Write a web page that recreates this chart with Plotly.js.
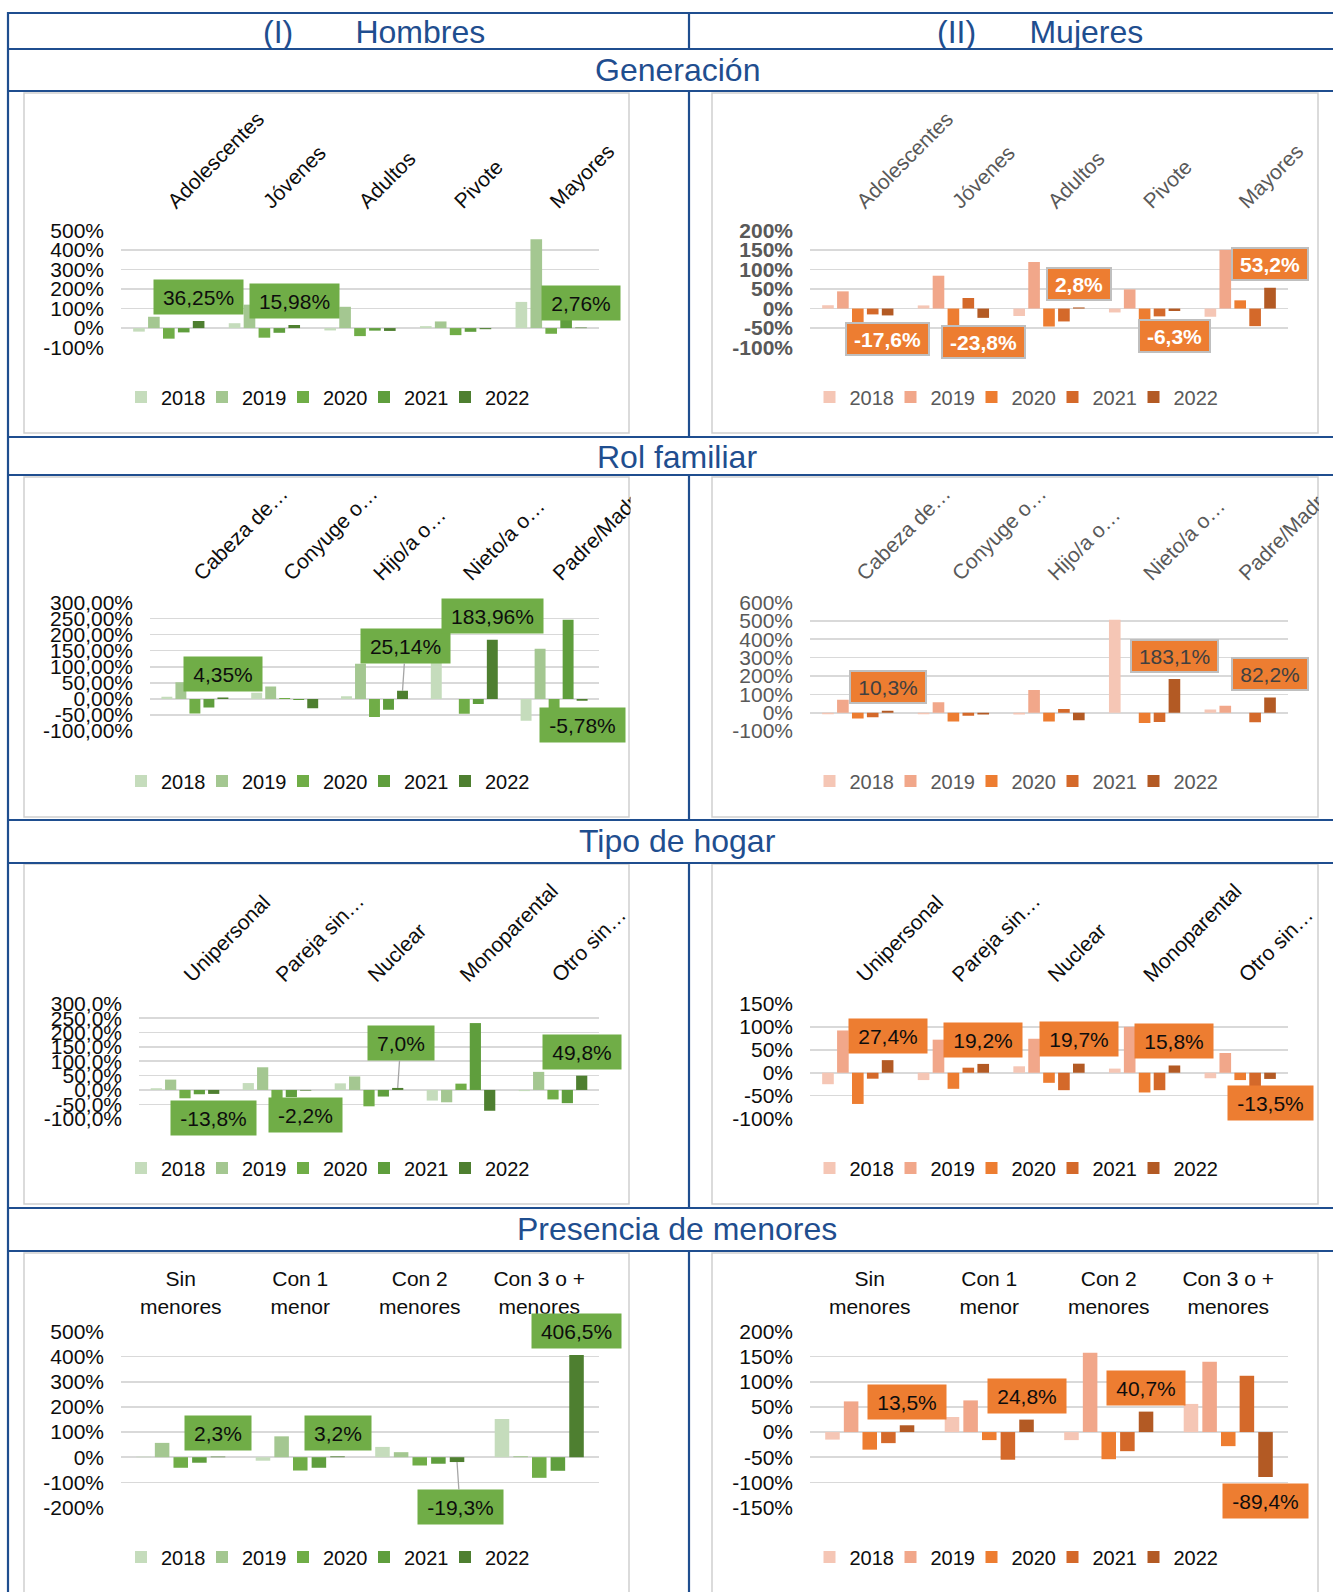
<!DOCTYPE html>
<html>
<head>
<meta charset="utf-8">
<script src="https://cdn.plot.ly/plotly-3.0.1.min.js"></script>
<style>
html,body{margin:0;padding:0;background:#ffffff;}
#chart{width:1333px;height:1592px;}
</style>
</head>
<body>
<div id="chart"></div>
<script>
// ---------------- DATA ----------------
const years = ['2018', '2019', '2020', '2021', '2022'];

const catGeneracion = ['Adolescentes', 'Jóvenes', 'Adultos', 'Pivote', 'Mayores'];
const catRol = ['Cabeza de…', 'Conyuge o…', 'Hijo/a o…', 'Nieto/a o…', 'Padre/Madre…'];
const catHogar = ['Unipersonal', 'Pareja sin…', 'Nuclear', 'Monoparental', 'Otro sin…'];
const catMenores = ['Sin menores', 'Con 1 menor', 'Con 2 menores', 'Con 3 o + menores'];
const tickMenores = ['Sin<br>menores', 'Con 1<br>menor', 'Con 2<br>menores', 'Con 3 o +<br>menores'];

// values (%) – one row per year 2018..2022
const genHombres = [
  [-18, 25, -12, 10, 134],
  [58, 120, 109, 34, 454],
  [-54, -49, -41, -36, -29],
  [-22, -24, -13, -19, 42],
  [36.25, 15.98, -14.48, -5.56, 2.76]
];
const genMujeres = [
  [8.5, 8, -19, -10, -21],
  [44, 84, 119, 49, 150],
  [-40, -48, -46, -30, 21],
  [-15, 27, -33, -20, -45],
  [-17.6, -23.8, 2.8, -6.3, 53.2]
];
const rolHombres = [
  [7, 19, 8, 130, -68],
  [52, 39, 109, 0, 156],
  [-45, 3, -56, -46, -35],
  [-27, -3, -34, -16, 246],
  [4.35, -29.06, 25.14, 183.96, -5.78]
];
const rolMujeres = [
  [-8, -8, -10, 506, 18],
  [70, 57, 124, 0, 38],
  [-32, -48, -48, -56, 0],
  [-25, -16, 20, -50, -52],
  [10.3, -9.3, -41.1, 183.1, 82.2]
];
const hogarHombres = [
  [6, 24, 23, -37, -4],
  [36, 79, 47, -43, 63],
  [-29, -30, -57, 22, -33],
  [-15, -25, -23, 233, -46],
  [-13.8, -2.2, 7.0, -72.5, 49.8]
];
const hogarMujeres = [
  [-25, -16, 14, 9, -12],
  [92, 72, 74, 100, 43],
  [-68, -35, -22, -43, -16],
  [-13, 11, -38, -38, -32],
  [27.4, 19.2, 19.7, 15.8, -13.5]
];
const menoresHombres = [
  [2, -14, 41, 152],
  [57, 83, 20, 4],
  [-42, -53, -33, -82],
  [-22, -42, -26, -54],
  [2.3, 3.2, -19.3, 406.5]
];
const menoresMujeres = [
  [-15, 30, -16, 56],
  [61, 63, 158, 140],
  [-35, -16, -54, -28],
  [-22, -55, -38, 112],
  [13.5, 24.8, 40.7, -89.4]
];

// y tick values and labels
const ticksGenH = [-100, 0, 100, 200, 300, 400, 500];
const ticksGenHText = ['-100%', '0%', '100%', '200%', '300%', '400%', '500%'];
const ticksGenM = [-100, -50, 0, 50, 100, 150, 200];
const ticksGenMText = ['-100%', '-50%', '0%', '50%', '100%', '150%', '200%'];
const ticksRolH = [-100, -50, 0, 50, 100, 150, 200, 250, 300];
const ticksRolHText = ['-100,00%', '-50,00%', '0,00%', '50,00%', '100,00%', '150,00%', '200,00%', '250,00%', '300,00%'];
const ticksRolM = [-100, 0, 100, 200, 300, 400, 500, 600];
const ticksRolMText = ['-100%', '0%', '100%', '200%', '300%', '400%', '500%', '600%'];
const ticksHogarH = [-100, -50, 0, 50, 100, 150, 200, 250, 300];
const ticksHogarHText = ['-100,0%', '-50,0%', '0,0%', '50,0%', '100,0%', '150,0%', '200,0%', '250,0%', '300,0%'];
const ticksHogarM = [-100, -50, 0, 50, 100, 150];
const ticksHogarMText = ['-100%', '-50%', '0%', '50%', '100%', '150%'];
const ticksMenH = [-200, -100, 0, 100, 200, 300, 400, 500];
const ticksMenHText = ['-200%', '-100%', '0%', '100%', '200%', '300%', '400%', '500%'];
const ticksMenM = [-150, -100, -50, 0, 50, 100, 150, 200];
const ticksMenMText = ['-150%', '-100%', '-50%', '0%', '50%', '100%', '150%', '200%'];

// ---------------- LABEL PLACEMENT (data-unit centre of each 2022 label box) ----------------
const labPosGenH = [158, 138, -139, -131, 126];
const labPosGenM = [-79, -86, 63, -69, 113];
const labPosRolH = [77, -105, null, 257, -82];
const labPosRolM = [141, -138, -171, 311, 213];
const labPosHogarH = [-99, -86, null, -156, 133];
const labPosHogarM = [80, 71, 73, 69, -66];
const labPosMenH = [97.5, 97.5, null, 500.7];
const labPosMenM = [60, 71, 88, -138];
// leader-line labels: pixel offset of the box from the bar end
const leaderRolH = [null, null, -45, null, null];
const leaderHogarH = [null, null, -45, null, null];
const leaderMenH = [null, null, 45, null];

// ---------------- STYLE ----------------
const W = 1333, H = 1592;
const FONT = 'Liberation Sans, Arial, Helvetica, sans-serif';
const BLUE = '#1F4E8F';
const greens = ['#C5DCBC', '#A4C791', '#70AD47', '#5F9E3D', '#4E7F30'];
const oranges = ['#F5C6B5', '#F1A78A', '#ED7D31', '#D4692A', '#B35A24'];
const BARGAP = 0.22, GROUPGAP = 0.22;
const px = v => v / W;
const py = v => 1 - v / H;

const rows = [
  {plotY: [230, 348], frameY: [93, 433], legendY: 397},
  {plotY: [602, 731.5], frameY: [477, 817], legendY: 781},
  {plotY: [1003.5, 1119], frameY: [864, 1204], legendY: 1168},
  {plotY: [1331, 1508], frameY: [1253, 1600], legendY: 1557}
];
const leftPlotX = [[121, 599], [150, 599], [139, 599], [121, 599]];
const rightPlotX = [810, 1288];
const leftFrameX = [24, 629], rightFrameX = [712, 1318];

const panels = [
  {row: 0, side: 'L', cats: catGeneracion, ticktext: catGeneracion, vals: genHombres, tv: ticksGenH, tt: ticksGenHText, dec: 2, lab: labPosGenH, lead: null, txt: '#0D0D0D', tickBold: false, lbl: 'green'},
  {row: 0, side: 'R', cats: catGeneracion, ticktext: catGeneracion, vals: genMujeres, tv: ticksGenM, tt: ticksGenMText, dec: 1, lab: labPosGenM, lead: null, txt: '#595959', tickBold: true, lbl: 'orangeWhite'},
  {row: 1, side: 'L', cats: catRol, ticktext: catRol, vals: rolHombres, tv: ticksRolH, tt: ticksRolHText, dec: 2, lab: labPosRolH, lead: leaderRolH, txt: '#0D0D0D', tickBold: false, lbl: 'green'},
  {row: 1, side: 'R', cats: catRol, ticktext: catRol, vals: rolMujeres, tv: ticksRolM, tt: ticksRolMText, dec: 1, lab: labPosRolM, lead: null, txt: '#595959', tickBold: false, lbl: 'orangeGrey'},
  {row: 2, side: 'L', cats: catHogar, ticktext: catHogar, vals: hogarHombres, tv: ticksHogarH, tt: ticksHogarHText, dec: 1, lab: labPosHogarH, lead: leaderHogarH, txt: '#0D0D0D', tickBold: false, lbl: 'green'},
  {row: 2, side: 'R', cats: catHogar, ticktext: catHogar, vals: hogarMujeres, tv: ticksHogarM, tt: ticksHogarMText, dec: 1, lab: labPosHogarM, lead: null, txt: '#0D0D0D', tickBold: false, lbl: 'orange'},
  {row: 3, side: 'L', cats: catMenores, ticktext: tickMenores, vals: menoresHombres, tv: ticksMenH, tt: ticksMenHText, dec: 1, lab: labPosMenH, lead: leaderMenH, txt: '#0D0D0D', tickBold: false, lbl: 'green'},
  {row: 3, side: 'R', cats: catMenores, ticktext: tickMenores, vals: menoresMujeres, tv: ticksMenM, tt: ticksMenMText, dec: 1, lab: labPosMenM, lead: null, txt: '#0D0D0D', tickBold: false, lbl: 'orange'}
];

const labelStyles = {
  green: {bg: '#70AD47', color: '#0D0D0D', bold: false, border: null, bw: 0},
  orangeWhite: {bg: '#ED7D31', color: '#FFFFFF', bold: true, border: '#BFBFBF', bw: 2},
  orangeGrey: {bg: '#ED7D31', color: '#404040', bold: false, border: '#BFBFBF', bw: 2},
  orange: {bg: '#ED7D31', color: '#0D0D0D', bold: false, border: null, bw: 0}
};

const ctx = document.createElement('canvas').getContext('2d');
function textWidth(t, size, bold) {
  ctx.font = (bold ? 'bold ' : '') + size + 'px "Liberation Sans", Arial, sans-serif';
  return ctx.measureText(t).width;
}
const fmt = (v, d) => v.toFixed(d).replace('.', ',') + '%';

// ---------------- BUILD ----------------
const data = [];
const layout = {
  width: W, height: H,
  margin: {l: 0, r: 0, t: 0, b: 0},
  autosize: false,
  paper_bgcolor: '#FFFFFF',
  plot_bgcolor: 'rgba(0,0,0,0)',
  barmode: 'group',
  bargap: BARGAP,
  bargroupgap: GROUPGAP,
  font: {family: FONT, color: '#0D0D0D'},
  showlegend: true,
  annotations: [],
  shapes: []
};

panels.forEach((p, idx) => {
  const n = idx + 1;
  const s = n === 1 ? '' : String(n);
  const xref = 'x' + s, yref = 'y' + s;
  const legendId = n === 1 ? 'legend' : 'legend' + n;
  const r = rows[p.row];
  const plotX = p.side === 'L' ? leftPlotX[p.row] : rightPlotX;
  const frameX = p.side === 'L' ? leftFrameX : rightFrameX;
  const colors = p.side === 'L' ? greens : oranges;

  years.forEach((yr, k) => {
    const tr = {
      type: 'bar', name: yr, x: p.cats, y: p.vals[k],
      xaxis: xref, yaxis: yref, legend: legendId,
      marker: {color: colors[k], line: {width: 0}},
      hoverinfo: 'skip'
    };
    if (k === years.length - 1) tr.legendwidth = 50;
    data.push(tr);
  });

  const lo = p.tv[0], hi = p.tv[p.tv.length - 1];
  const e = (hi - lo) * 0.003;
  layout['xaxis' + s] = {
    domain: [px(plotX[0]), px(plotX[1])], anchor: yref, side: 'top', type: 'category',
    categoryorder: 'array', categoryarray: p.cats,
    range: [-0.5, p.cats.length - 0.5], autorange: false,
    tickmode: 'array', tickvals: p.cats, ticktext: p.ticktext,
    tickangle: p.row === 3 ? 0 : -45,
    showgrid: false, showline: false, zeroline: false, ticks: '',
    ticklabelstandoff: 12,
    tickfont: {family: FONT, size: 21, color: p.txt},
    fixedrange: true, automargin: false
  };
  layout['yaxis' + s] = {
    domain: [py(r.plotY[1]), py(r.plotY[0])], anchor: xref,
    range: [lo - e, hi + e], autorange: false,
    tickmode: 'array', tickvals: p.tv, ticktext: p.tt,
    showgrid: true, gridcolor: '#D9D9D9', gridwidth: 1.6,
    zeroline: false, showline: false, ticks: '',
    ticklabelstandoff: 16,
    tickfont: {family: FONT, size: 21, color: p.txt, weight: p.tickBold ? 'bold' : 'normal'},
    fixedrange: true, automargin: false
  };
  layout[legendId] = {
    orientation: 'h',
    x: px((frameX[0] + frameX[1]) / 2 + 4), xanchor: 'center',
    y: py(r.legendY), yanchor: 'middle',
    font: {family: FONT, size: 20, color: p.txt},
    bgcolor: 'rgba(0,0,0,0)', borderwidth: 0,
    entrywidth: 36, entrywidthmode: 'pixels',
    traceorder: 'normal', itemclick: false, itemdoubleclick: false
  };

  // data labels for the 2022 series
  const st = labelStyles[p.lbl];
  const off = 2 * (1 - BARGAP) / 5;
  const last = p.vals[4];
  last.forEach((v, i) => {
    const t = fmt(v, p.dec);
    const wTxt = textWidth(t, 21, st.bold);
    const ann = {
      xref: xref, yref: yref, x: i + off,
      text: t,
      font: {family: FONT, size: 21, color: st.color, weight: st.bold ? 'bold' : 'normal'},
      bgcolor: st.bg,
      borderpad: 3,
      width: Math.round(wTxt + 12 - 2 * st.bw),
      height: 28 - 2 * st.bw,
      align: 'center', valign: 'middle',
      xanchor: 'center', yanchor: 'middle'
    };
    if (st.border) { ann.bordercolor = st.border; ann.borderwidth = st.bw; }
    const lead = p.lead ? p.lead[i] : null;
    if (lead !== null && lead !== undefined) {
      ann.y = v;
      ann.showarrow = true;
      ann.arrowhead = 0;
      ann.arrowwidth = 1.3;
      ann.arrowcolor = '#A6A6A6';
      ann.standoff = 0;
      ann.ax = 3;
      ann.ay = lead;
    } else {
      ann.y = p.lab[i];
      ann.showarrow = false;
    }
    layout.annotations.push(ann);
  });

  // chart frame
  layout.shapes.push({type: 'rect', xref: 'paper', yref: 'paper', layer: 'below',
    x0: px(frameX[0]), x1: px(frameX[1]), y0: py(r.frameY[1]), y1: py(r.frameY[0]),
    line: {color: '#CFCFCF', width: 1.5}, fillcolor: 'rgba(0,0,0,0)'});
});

// masks that clip overflowing category text at the chart frame (row 2)
[[630.5, 687], [1319, 1333]].forEach(m => {
  layout.shapes.push({type: 'rect', xref: 'paper', yref: 'paper', layer: 'above',
    x0: px(m[0]), x1: px(m[1]), y0: py(600), y1: py(440),
    line: {width: 0}, fillcolor: '#FFFFFF'});
});

// table rules
const hLines = [13, 49, 91, 437, 475, 820, 863, 1208, 1251];
hLines.forEach(y => {
  layout.shapes.push({type: 'line', xref: 'paper', yref: 'paper', layer: 'above',
    x0: px(8), x1: px(1333), y0: py(y), y1: py(y), line: {color: BLUE, width: 2.2}});
});
layout.shapes.push({type: 'line', xref: 'paper', yref: 'paper', layer: 'above',
  x0: px(8), x1: px(8), y0: py(12), y1: py(1592), line: {color: BLUE, width: 2.2}});
[[13, 49], [91, 437], [475, 820], [863, 1208], [1251, 1592]].forEach(seg => {
  layout.shapes.push({type: 'line', xref: 'paper', yref: 'paper', layer: 'above',
    x0: px(689), x1: px(689), y0: py(seg[0]), y1: py(seg[1]), line: {color: BLUE, width: 2.2}});
});

// table headings
const NB = '\u00A0';
const headings = [
  {text: '(I)' + NB.repeat(7) + 'Hombres', x: 374, y: 32},
  {text: '(II)' + NB.repeat(6) + 'Mujeres', x: 1040, y: 32},
  {text: 'Generación', x: 677, y: 70},
  {text: 'Rol familiar', x: 677, y: 457},
  {text: 'Tipo de hogar', x: 677, y: 841},
  {text: 'Presencia de menores', x: 677, y: 1229}
];
headings.forEach(h => {
  layout.annotations.push({xref: 'paper', yref: 'paper', x: px(h.x), y: py(h.y),
    xanchor: 'center', yanchor: 'middle', showarrow: false, text: h.text,
    font: {family: FONT, size: 32, color: BLUE}});
});

Plotly.newPlot('chart', data, layout, {staticPlot: true, displayModeBar: false});
</script>
</body>
</html>
